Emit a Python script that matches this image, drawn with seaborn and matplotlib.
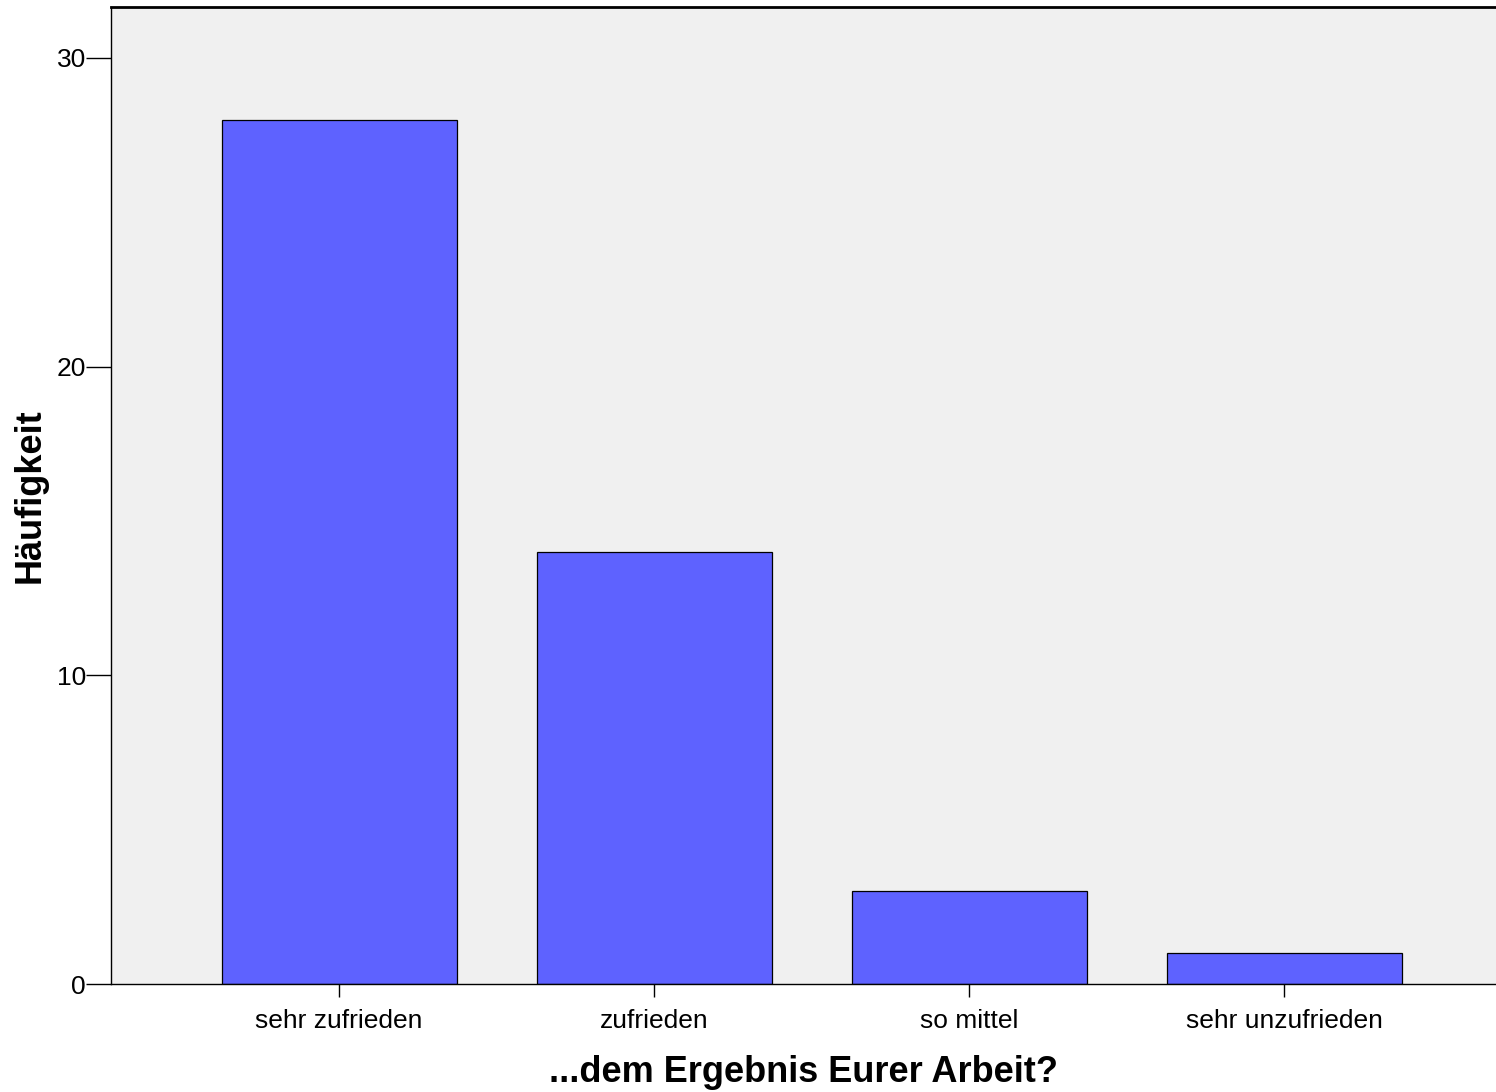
import matplotlib
matplotlib.use("Agg")
import matplotlib.pyplot as plt
import seaborn as sns
import pandas as pd

categories = ["sehr zufrieden", "zufrieden", "so mittel", "sehr unzufrieden"]
counts = [28, 14, 3, 1]
yticks = [0, 10, 20, 30]

sns.set_theme(style="white")
plt.rcParams['font.family'] = ['Liberation Sans', 'DejaVu Sans']
plt.rcParams['text.color'] = 'black'
plt.rcParams['axes.labelcolor'] = 'black'
plt.rcParams['xtick.color'] = 'black'
plt.rcParams['ytick.color'] = 'black'

df = pd.DataFrame({"cat": categories, "n": counts})

fig = plt.figure(figsize=(14.96, 10.92), dpi=100)
ax = fig.add_axes([111/1496, 108/1092, 1 - 111/1496, (984 - 7)/1092])
ax.set_facecolor("#F0F0F0")

sns.barplot(data=df, x="cat", y="n", order=categories, color="#5E62FF",
            saturation=1, width=0.746, edgecolor="black", linewidth=0.9, ax=ax)

ax.set_xlim(-0.724, 3.673)
ax.set_ylim(0, 31.65)
ax.set_yticks(yticks)
ax.set_yticklabels([str(t) for t in yticks])

for s in ["left", "bottom", "top"]:
    ax.spines[s].set_visible(True)
    ax.spines[s].set_color("black")
    ax.spines[s].set_linewidth(1.0)
ax.spines["top"].set_linewidth(2.0)
ax.spines["right"].set_visible(False)

ax.tick_params(axis="y", direction="out", length=18, width=1, color="black",
               labelsize=19, pad=0, left=True, labelcolor="black")
ax.tick_params(axis="x", direction="out", length=9, width=1, color="black",
               labelsize=19, pad=9, bottom=True, labelcolor="black")

ax.set_xlabel("...dem Ergebnis Eurer Arbeit?", fontsize=26, fontweight="bold", color="black")
ax.set_ylabel("Häufigkeit", fontsize=26, fontweight="bold", color="black")
ax.xaxis.set_label_coords(0.5, -0.073)
ax.yaxis.set_label_coords(-0.046, 0.5)

fig.savefig("out.png", dpi=100)
